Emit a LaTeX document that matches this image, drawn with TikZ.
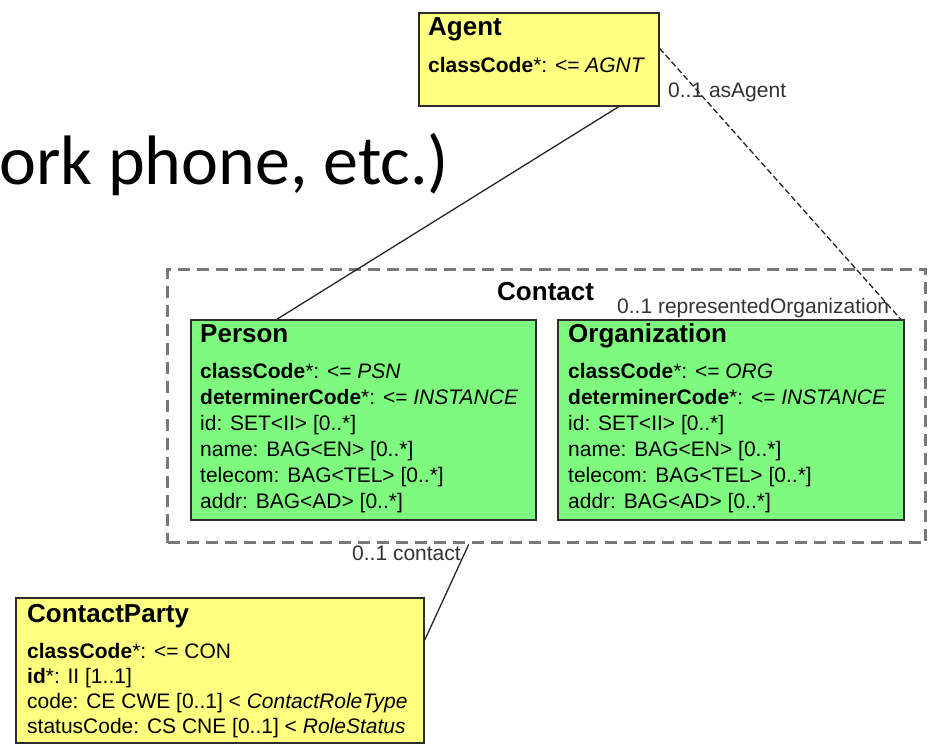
\documentclass[tikz,border=0pt]{standalone}
\usepackage{fontspec}
\setmainfont{Liberation Sans}
\newfontfamily\slidefont{Carlito}
\usetikzlibrary{positioning}
\definecolor{umlyellow}{RGB}{255,255,128}
\definecolor{umlgreen}{RGB}{126,250,126}
\definecolor{umlframe}{RGB}{45,45,45}
\definecolor{groupgray}{RGB}{120,120,120}

\begin{document}
\begin{tikzpicture}[x=1pt, y=-1pt,
    classbox/.style={draw=umlframe, line width=1.6pt, rectangle, inner sep=0pt, anchor=north west},
    classname/.style={font=\fontsize{26}{30}\selectfont\bfseries, inner sep=0pt, anchor=base west},
    attrs/.style={font=\fontsize{21}{26}\selectfont, align=left, inner sep=0pt, anchor=base west},
    rolelabel/.style={font=\fontsize{21}{25}\selectfont, text=black!80, inner sep=0pt, anchor=base west},
    assoc/.style={draw=black!85, line width=1.3pt}]
    \useasboundingbox (0,0) rectangle (929,748);

    % slide text behind the diagram
    \node[font=\slidefont\fontsize{70}{80}\selectfont, inner sep=0pt, anchor=base west] (slidetext) at (-1,184) {ork phone, etc.)};

    % Contact group
    \node[rectangle, draw=groupgray, line width=3.4pt, dash pattern=on 12pt off 7pt, inner sep=0pt, anchor=north west,
        minimum width=758, minimum height=273] (contact) at (166,268) {};
    \node[classname] (contacttitle) at (497,300) {Contact};

    % Agent
    \node[classbox, fill=umlyellow, minimum width=240, minimum height=93] (agent) at (418,12) {};
    \node[classname] (agenttitle) at (428,35) {Agent};
    \node[attrs] (agentattrs) at (428,72) {\textbf{classCode}*: <= \textit{AGNT}};

    % Person (attrs placed by last baseline)
    \node[classbox, fill=umlgreen, minimum width=345, minimum height=200] (person) at (190,319) {};
    \node[classname] (persontitle) at (200,342) {Person};
    \node[attrs] (personattrs) at (200,508) {\textbf{classCode}*: <= \textit{PSN}\\
        \textbf{determinerCode}*: <= \textit{INSTANCE}\\
        id: SET<II> [0..*]\\
        name: BAG<EN> [0..*]\\
        telecom: BAG<TEL> [0..*]\\
        addr: BAG<AD> [0..*]};

    % Organization
    \node[classbox, fill=umlgreen, minimum width=346, minimum height=200] (org) at (557,319) {};
    \node[classname] (orgtitle) at (568,342) {Organization};
    \node[attrs] (orgattrs) at (568,508) {\textbf{classCode}*: <= \textit{ORG}\\
        \textbf{determinerCode}*: <= \textit{INSTANCE}\\
        id: SET<II> [0..*]\\
        name: BAG<EN> [0..*]\\
        telecom: BAG<TEL> [0..*]\\
        addr: BAG<AD> [0..*]};

    % ContactParty
    \node[classbox, fill=umlyellow, minimum width=408, minimum height=145] (party) at (15,597) {};
    \node[classname] (partytitle) at (27,622) {ContactParty};
    \node[attrs, font=\fontsize{21}{25}\selectfont] (partyattrs) at (27,733) {\textbf{classCode}*: <= CON\\
        \textbf{id}*: II [1..1]\\
        code: CE CWE [0..1] < \textit{ContactRoleType}\\
        statusCode: CS CNE [0..1] < \textit{RoleStatus}};

    % role labels
    \node[rolelabel] (asagent) at (668,97) {0..1 asAgent};
    \node[rolelabel] (reporg) at (617,313) {0..1 representedOrganization};
    \node[rolelabel] (contactrole) at (352,560) {0..1 contact};

    % associations
    \draw[assoc] ([xshift=80pt]agent.south) -- ([xshift=-86pt]person.north);
    \draw[assoc, dash pattern=on 6pt off 3pt] ([yshift=11pt]agent.east) -- ([xshift=-4pt]org.north east);
    \draw[assoc] ([xshift=-78pt]contact.south) -- ([yshift=30pt]party.east);
\end{tikzpicture}
\end{document}
